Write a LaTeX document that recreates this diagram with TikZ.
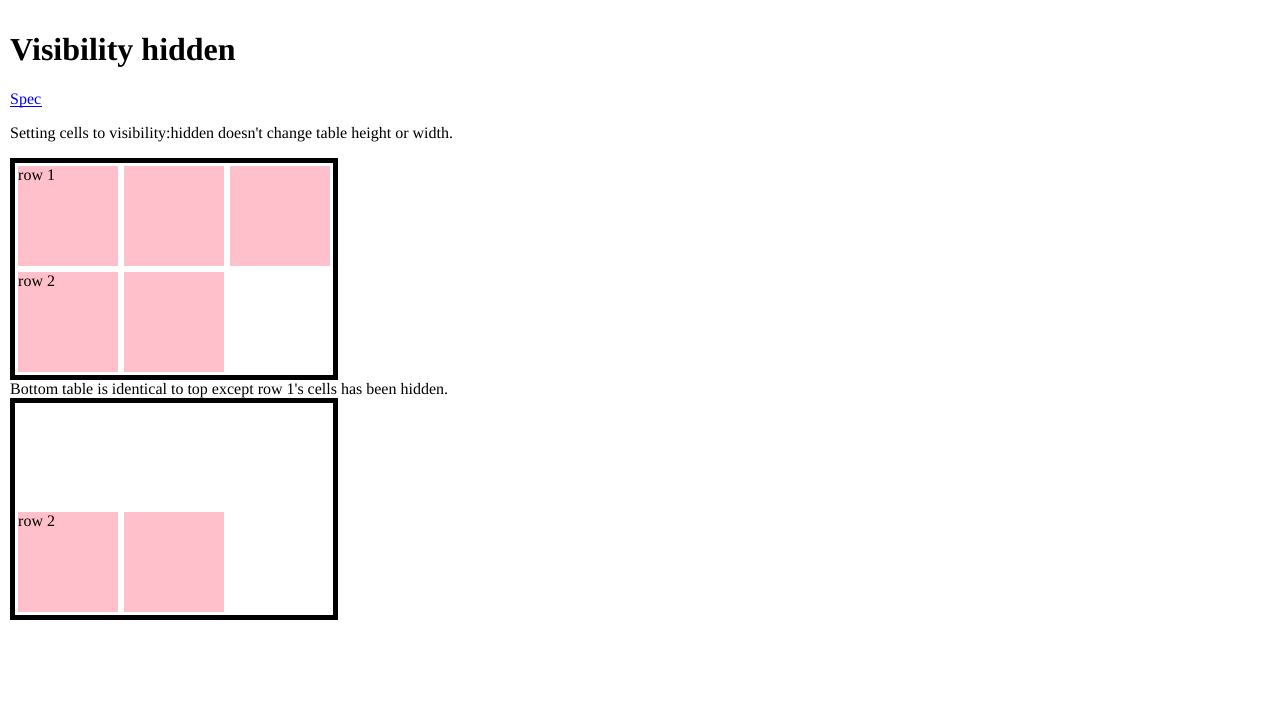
\documentclass[tikz,border=0pt]{standalone}
\usepackage{fontspec}
\setmainfont[Ligatures=TeXOff]{Liberation Serif}
\definecolor{cellpink}{HTML}{FFC0CB}
\definecolor{linkblue}{HTML}{0000EE}
\begin{document}
\begin{tikzpicture}[x=1pt,y=-1pt,
  txt/.style={anchor=base west,inner sep=0pt,font=\fontsize{16}{19}\selectfont},
  cell/.style={fill=cellpink,draw=none,minimum width=100pt,minimum height=100pt,inner sep=0pt,anchor=north west},
  frame/.style={draw=black,line width=5pt}]
\useasboundingbox (0,0) rectangle (1280,720);
\fill[white] (0,0) rectangle (1280,720);
\node[txt,font=\fontsize{32}{38}\selectfont\bfseries] (title) at (10,60) {Visibility hidden};
\node[txt,text=linkblue] (spec) at (10,104) {Spec};
\draw[linkblue,line width=1pt] ([yshift=-2pt]spec.base west) -- ([yshift=-2pt]spec.base east);
\node[txt] (p1) at (10,138) {Setting cells to visibility:hidden doesn't change table height or width.};
% top table
\draw[frame] (12.5,160.5) rectangle (335.5,377.5);
\node[cell] (a11) at (18,166) {};
\node[cell] (a12) at (124,166) {};
\node[cell] (a13) at (230,166) {};
\node[cell] (a21) at (18,272) {};
\node[cell] (a22) at (124,272) {};
\node[txt] (r1) at (18,180) {row 1};
\node[txt] (r2) at (18,286) {row 2};
\node[txt] (p2) at (10,394) {Bottom table is identical to top except row 1's cells has been hidden.};
% bottom table
\draw[frame] (12.5,400.5) rectangle (335.5,617.5);
\node[cell] (b21) at (18,512) {};
\node[cell] (b22) at (124,512) {};
\node[txt] (br2) at (18,526) {row 2};
\end{tikzpicture}
\end{document}
